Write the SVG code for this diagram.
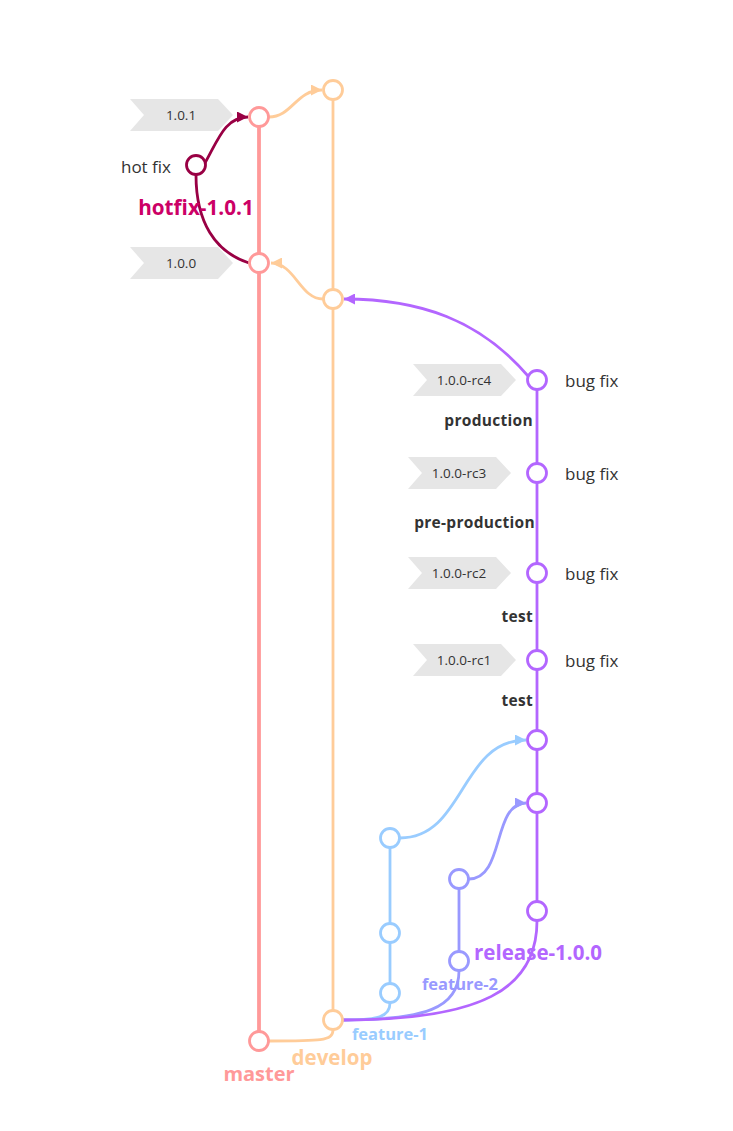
<svg xmlns="http://www.w3.org/2000/svg" width="733" height="1131" viewBox="0 0 733 1131">
<style>
text{font-family:"Open Sans","Noto Sans","DejaVu Sans",sans-serif;dominant-baseline:central}
.n{fill:#fff;stroke-width:2.8}
.tag{fill:#e6e6e6}
.tt{font-size:13.5px;fill:#333;text-anchor:middle}
.msg{font-size:17px;fill:#333}
.env{font-size:15.5px;font-weight:bold;fill:#333;text-anchor:end;letter-spacing:0.3px}
.br{font-weight:bold;text-anchor:middle}
.l{fill:none;stroke-width:2.8}
</style>
<defs>
<marker id="aO" viewBox="0 0 10 10" refX="10" refY="5" markerWidth="14" markerHeight="11" markerUnits="userSpaceOnUse" orient="auto"><path d="M0,0L10,5L0,10Z" fill="#ffcc99"/></marker>
<marker id="aH" viewBox="0 0 10 10" refX="10" refY="5" markerWidth="14" markerHeight="11" markerUnits="userSpaceOnUse" orient="auto"><path d="M0,0L10,5L0,10Z" fill="#990044"/></marker>
<marker id="aR" viewBox="0 0 10 10" refX="10" refY="5" markerWidth="14" markerHeight="11" markerUnits="userSpaceOnUse" orient="auto"><path d="M0,0L10,5L0,10Z" fill="#b366ff"/></marker>
<marker id="aF1" viewBox="0 0 10 10" refX="10" refY="5" markerWidth="14" markerHeight="11" markerUnits="userSpaceOnUse" orient="auto"><path d="M0,0L10,5L0,10Z" fill="#99ccff"/></marker>
<marker id="aF2" viewBox="0 0 10 10" refX="10" refY="5" markerWidth="14" markerHeight="11" markerUnits="userSpaceOnUse" orient="auto"><path d="M0,0L10,5L0,10Z" fill="#9999ff"/></marker>
</defs>

<g id="tags">
<g id="tag-1.0.1"><path class="tag" d="M130,99H218L233,115L218,131H130L144,115Z"/><text class="tt" x="181" y="115">1.0.1</text></g>
<g id="tag-1.0.0"><path class="tag" d="M130,247H218L233,263L218,279H130L144,263Z"/><text class="tt" x="181" y="263">1.0.0</text></g>
<g id="tag-rc4"><path class="tag" d="M413,364H501L516,380L501,396H413L427,380Z"/><text class="tt" x="464" y="380">1.0.0-rc4</text></g>
<g id="tag-rc3"><path class="tag" d="M408,457H496L511,473L496,489H408L422,473Z"/><text class="tt" x="459" y="473">1.0.0-rc3</text></g>
<g id="tag-rc2"><path class="tag" d="M408,557H496L511,573L496,589H408L422,573Z"/><text class="tt" x="459" y="573">1.0.0-rc2</text></g>
<g id="tag-rc1"><path class="tag" d="M413,644H501L516,660L501,676H413L427,660Z"/><text class="tt" x="464" y="660">1.0.0-rc1</text></g>
</g>

<g id="connectors">
<line x1="259" y1="127" x2="259" y2="1031" stroke="#ff9999" stroke-width="3.8"/>
<line x1="333" y1="100" x2="333" y2="1010" stroke="#ffcc99" stroke-width="2.8"/>
<line x1="537" y1="390" x2="537" y2="901" stroke="#b366ff" stroke-width="2.8"/>
<line x1="390" y1="848" x2="390" y2="983" stroke="#99ccff" stroke-width="2.8"/>
<line x1="459" y1="889" x2="459" y2="951" stroke="#9999ff" stroke-width="2.8"/>
<path class="l" stroke="#ffcc99" d="M333,1030C333,1041 320,1041 269,1041"/>
<path class="l" stroke="#99ccff" d="M390,1003C390,1017 378,1020 343,1020"/>
<path class="l" stroke="#9999ff" d="M459,971C459,1008 425,1020 343,1020"/>
<path class="l" stroke="#b366ff" d="M537,921C537,990 480,1020 343,1020"/>
<path class="l" stroke="#99ccff" marker-end="url(#aF1)" d="M400,838C465,838 460,740 526,740"/>
<path class="l" stroke="#9999ff" marker-end="url(#aF2)" d="M469,879C505,879 492,803 526,803"/>
<path class="l" stroke="#b366ff" marker-end="url(#aR)" d="M528,376C480,320 420,299 344,299"/>
<path class="l" stroke="#ffcc99" marker-end="url(#aO)" d="M323,299C300,299 295,263 271,263"/>
<path class="l" stroke="#ffcc99" marker-end="url(#aO)" d="M269,117C292,117 296,90 322,90"/>
<path class="l" stroke="#990044" d="M249,263C215,252 196,222 196,175"/>
<path class="l" stroke="#990044" marker-end="url(#aH)" d="M205,163C218,140 225,117 248,117"/>
</g>

<g id="master">
<circle id="m1" class="n" cx="259" cy="117" r="9.5" stroke="#ff9999" stroke-width="3.2"/>
<circle id="m2" class="n" cx="259" cy="263" r="9.5" stroke="#ff9999" stroke-width="3.2"/>
<circle id="m0" class="n" cx="259" cy="1041" r="9.5" stroke="#ff9999" stroke-width="3.2"/>
<text class="br" x="259" y="1073" font-size="20" fill="#ff9999">master</text>
</g>
<g id="develop">
<circle id="d3" class="n" cx="333" cy="90" r="9.5" stroke="#ffcc99"/>
<circle id="d2" class="n" cx="333" cy="299" r="9.5" stroke="#ffcc99"/>
<circle id="d0" class="n" cx="333" cy="1020" r="9.5" stroke="#ffcc99"/>
<text class="br" x="332" y="1057" font-size="20.5" fill="#ffcc99">develop</text>
</g>
<g id="hotfix">
<circle id="h1" class="n" cx="196" cy="165" r="9.5" stroke="#990044"/>
<text class="msg" x="171" y="166" text-anchor="end" font-size="17.5">hot fix</text>
<text class="br" x="196" y="207" font-size="20.7" fill="#cc0066">hotfix-1.0.1</text>
</g>
<g id="release">
<circle id="r7" class="n" cx="537" cy="380" r="9.5" stroke="#b366ff"/>
<circle id="r6" class="n" cx="537" cy="473" r="9.5" stroke="#b366ff"/>
<circle id="r5" class="n" cx="537" cy="573" r="9.5" stroke="#b366ff"/>
<circle id="r4" class="n" cx="537" cy="660" r="9.5" stroke="#b366ff"/>
<circle id="r3" class="n" cx="537" cy="740" r="9.5" stroke="#b366ff"/>
<circle id="r2" class="n" cx="537" cy="803" r="9.5" stroke="#b366ff"/>
<circle id="r1" class="n" cx="537" cy="911" r="9.5" stroke="#b366ff"/>
<text class="msg" x="565" y="380">bug fix</text>
<text class="msg" x="565" y="473">bug fix</text>
<text class="msg" x="565" y="573">bug fix</text>
<text class="msg" x="565" y="660">bug fix</text>
<text class="env" x="533" y="420">production</text>
<text class="env" x="535" y="522">pre-production</text>
<text class="env" x="533" y="616">test</text>
<text class="env" x="533" y="700">test</text>
<text class="br" x="538" y="952" font-size="20.5" fill="#b366ff">release-1.0.0</text>
</g>
<g id="feature-1">
<circle id="f13" class="n" cx="390" cy="838" r="9.5" stroke="#99ccff"/>
<circle id="f12" class="n" cx="390" cy="933" r="9.5" stroke="#99ccff"/>
<circle id="f11" class="n" cx="390" cy="993" r="9.5" stroke="#99ccff"/>
<text class="br" x="390" y="1033" font-size="16.5" fill="#99ccff">feature-1</text>
</g>
<g id="feature-2">
<circle id="f22" class="n" cx="459" cy="879" r="9.5" stroke="#9999ff"/>
<circle id="f21" class="n" cx="459" cy="961" r="9.5" stroke="#9999ff"/>
<text class="br" x="460" y="983" font-size="16.5" fill="#9999ff">feature-2</text>
</g>
</svg>
